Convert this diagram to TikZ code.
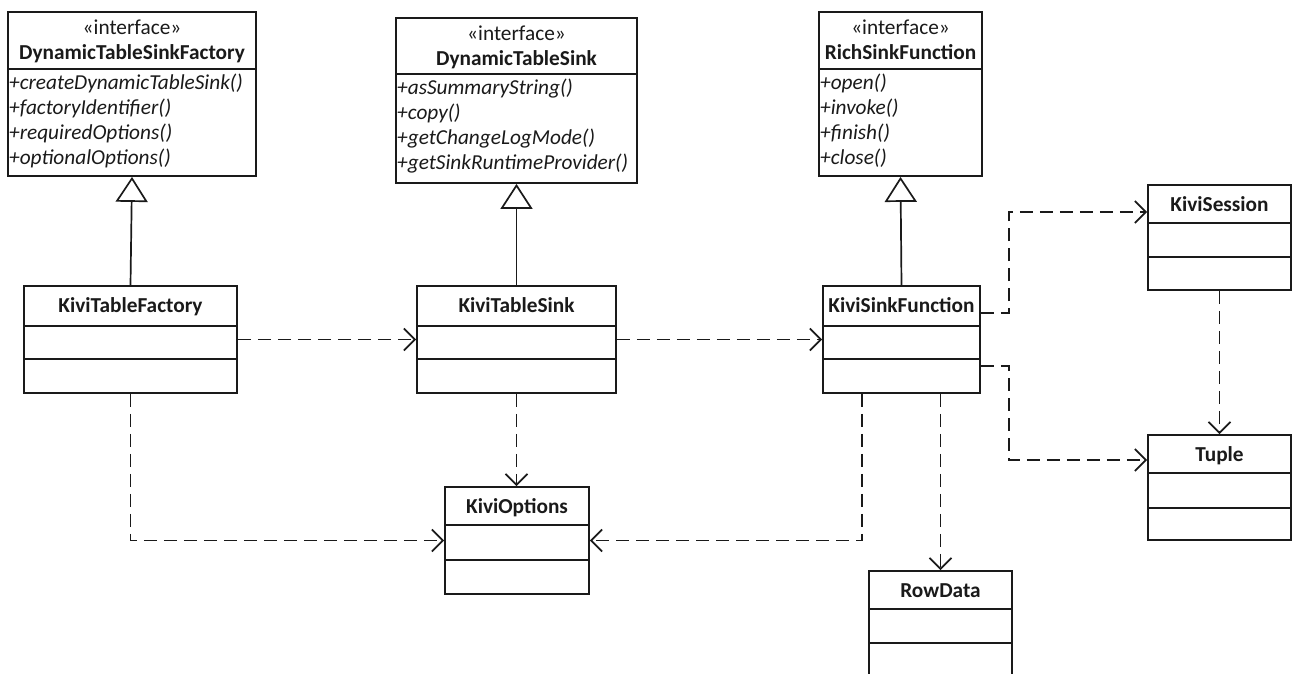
\documentclass[tikz,border=0pt]{standalone}
\usepackage{fontspec}
\setmainfont{Carlito}
\usetikzlibrary{arrows.meta,fit}

\definecolor{ink}{HTML}{1A1A1A}

\tikzset{
  classbox/.style={draw=ink, line width=1.8pt, inner sep=0pt, fill=white},
  divider/.style={draw=ink, line width=1.8pt},
  classname/.style={font=\fontsize{21.3}{25}\selectfont\bfseries, text=ink, inner sep=0pt, anchor=base},
  stereo/.style={font=\fontsize{21.3}{25}\selectfont, text=ink, inner sep=0pt, anchor=base},
  method/.style={font=\fontsize{21.3}{25}\selectfont\itshape, text=ink, inner sep=0pt, anchor=base west},
  dep/.style={draw=ink, line width=1.7pt, dash pattern=on 13pt off 7pt,
    -{Straight Barb[length=11pt,width=22pt]}},
  inherit/.style={draw=ink, line width=1.7pt,
    -{Triangle[open, length=25pt, width=32pt, fill=white]}},
}

% class box: name, x1, y1, x2, y2, first divider, second divider, title
\newcommand{\umlclass}[8]{%
  \node[classbox, fit={(#2,#3) (#4,#5)}] (#1) {};
  \draw[divider] (#2,#6) -- (#4,#6);
  \draw[divider] (#2,#7) -- (#4,#7);
  \node[classname] (#1-name) at ({(#2+#4)/2},{#3+26}) {#8};
}

% interface box: name, x1, y1, x2, y2, divider, title
\newcommand{\umliface}[7]{%
  \node[classbox, fit={(#2,#3) (#4,#5)}] (#1) {};
  \draw[divider] (#2,#6) -- (#4,#6);
  \node[stereo] (#1-st) at ({(#2+#4)/2},{#3+22}) {«interface»};
  \node[classname] (#1-name) at ({(#2+#4)/2},{#3+47}) {#7};
}

\begin{document}
\begin{tikzpicture}[x=1pt,y=-1pt]
  \useasboundingbox (0,0) rectangle (1292,673);
  \clip (0,0) rectangle (1292,673);

  % interfaces
  \umliface{dtsf}{8}{12}{256}{176}{69}{DynamicTableSinkFactory}
  \foreach \m [count=\i] in {+createDynamicTableSink(),+factoryIdentifier(),+requiredOptions(),+optionalOptions()}
    \node[method] (dtsf-m\i) at (9,{89+25*(\i-1)}) {\m};

  \umliface{dts}{396}{18}{637}{183}{74}{DynamicTableSink}
  \foreach \m [count=\i] in {+asSummaryString(),+copy(),+getChangeLogMode(),+getSinkRuntimeProvider()}
    \node[method] (dts-m\i) at (397,{94+25.3*(\i-1)}) {\m};

  \umliface{rsf}{819}{12}{982}{176}{69}{RichSinkFunction}
  \foreach \m [count=\i] in {+open(),+invoke(),+finish(),+close()}
    \node[method] (rsf-m\i) at (820,{89+25*(\i-1)}) {\m};

  % classes
  \umlclass{ktf}{24}{286}{237}{393}{326}{359}{KiviTableFactory}
  \umlclass{kts}{417}{286}{616}{393}{326}{359}{KiviTableSink}
  \umlclass{ksf}{823}{286}{980}{393}{326}{359}{KiviSinkFunction}
  \umlclass{kopt}{445}{487}{589}{594}{525}{560}{KiviOptions}
  \umlclass{ksess}{1148}{185}{1291}{290}{223}{257}{KiviSession}
  \umlclass{tuple}{1148}{435}{1291}{540}{473}{508}{Tuple}
  \umlclass{row}{869}{571}{1012}{680}{609}{643}{RowData}

  % realisation of the interfaces
  \draw[inherit] (ktf.north) -- (dtsf.south);
  \draw[inherit] (kts.north) -- (dts.south);
  \draw[inherit] (ksf.north) -- (rsf.south);

  % dependencies
  \draw[dep] (ktf.east) -- (kts.west);
  \draw[dep] (kts.east) -- (ksf.west);
  \draw[dep] ([yshift=26.5pt]ksf.east) -- ++(28,0) |- ([yshift=25.5pt]ksess.west);
  \draw[dep] ([yshift=-26.5pt]ksf.east) -- ++(28,0) |- ([yshift=27.5pt]tuple.west);
  \draw[dep] (ksess.south) -- (tuple.north);
  \draw[dep] (row.north |- ksf.south) -- (row.north);
  \draw[dep] (kts.south) -- (kts.south |- kopt.north);
  \draw[dep] (ktf.south) |- (kopt.west);
  \draw[dep] ([xshift=-39.5pt]ksf.south) |- (kopt.east);
\end{tikzpicture}
\end{document}
